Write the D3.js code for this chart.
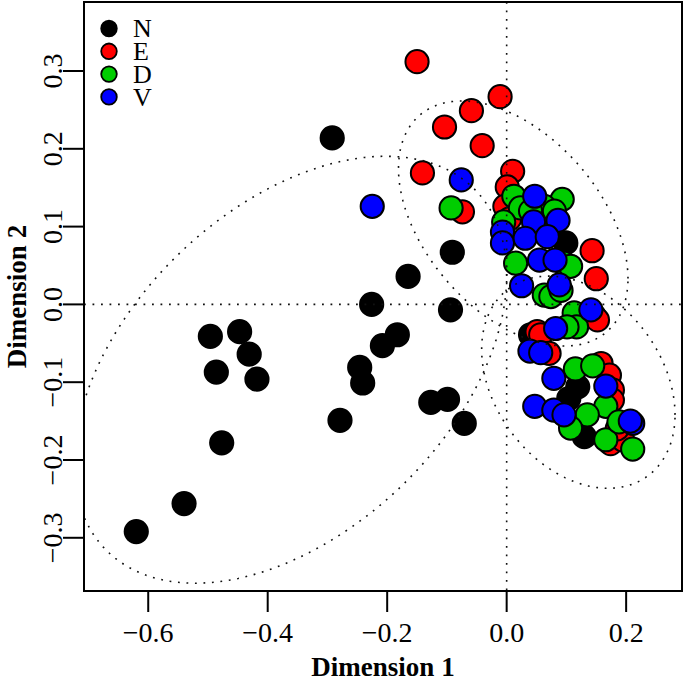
<!DOCTYPE html>
<html><head><meta charset="utf-8">
<script src="https://cdn.jsdelivr.net/npm/d3@7"></script>
<style>body{margin:0;background:#fff}svg{display:block}</style>
</head><body>
<svg id="chart" width="685" height="682"></svg>
<script>
// ---------- data ----------
const groupNames = ["N", "E", "D", "V"];
const groupColors = ["#000000", "#FF0000", "#00CD00", "#0000FF"];

const nX = [-0.292, -0.091, -0.165, -0.226, -0.094, -0.183, -0.208, -0.246, -0.241, -0.279, -0.127, -0.099, -0.071,
            -0.496, -0.447, -0.431, -0.486, -0.418, -0.477, -0.540, -0.620, 0.099, 0.119, 0.104, 0.130, 0.040];
const nY = [0.214, 0.067, 0.036, 0.000, -0.007, -0.039, -0.053, -0.081, -0.101, -0.149, -0.126, -0.122, -0.153,
            -0.041, -0.035, -0.064, -0.087, -0.096, -0.178, -0.256, -0.292, 0.079, -0.106, -0.121, -0.170, -0.039];

const eX = [-0.150, -0.011, -0.059, -0.104, -0.041, -0.141, -0.074, 0.010, 0.001, -0.003, 0.143, 0.150, 0.146, 0.152,
            0.051, 0.057, 0.071, 0.158, 0.172, 0.177, 0.177, 0.174, 0.194, 0.185, 0.005];
const eY = [0.312, 0.267, 0.249, 0.228, 0.204, 0.169, 0.119, 0.171, 0.151, 0.126, 0.069, 0.033, -0.014, -0.020,
            -0.035, -0.039, -0.063, -0.076, -0.091, -0.110, -0.123, -0.179, -0.174, -0.160, 0.110];

const dX = [-0.093, 0.012, 0.093, 0.023, 0.063, -0.005, 0.015, 0.095, 0.107, 0.063, 0.074, 0.091, 0.113, 0.117,
            0.101, 0.115, 0.144, 0.166, 0.135, 0.107, 0.166, 0.188, 0.211, 0.040, 0.080];
const dY = [0.124, 0.139, 0.135, 0.124, 0.126, 0.106, 0.053, 0.053, 0.049, 0.012, 0.010, 0.018, -0.011, -0.029,
            -0.029, -0.083, -0.079, -0.131, -0.142, -0.159, -0.174, -0.151, -0.186, 0.120, 0.120];

const vX = [-0.225, -0.076, 0.047, 0.045, 0.086, -0.007, -0.007, 0.031, 0.068, 0.055, 0.081, 0.025, 0.088, 0.141,
            0.082, 0.039, 0.057, 0.079, 0.166, 0.047, 0.079, 0.096, 0.211, 0.207];
const vY = [0.126, 0.160, 0.139, 0.106, 0.108, 0.093, 0.079, 0.085, 0.087, 0.057, 0.057, 0.024, 0.025, -0.007,
            -0.031, -0.060, -0.062, -0.095, -0.105, -0.131, -0.136, -0.142, -0.153, -0.150];

const xTicks = [-0.6, -0.4, -0.2, 0.0, 0.2];
const yTicks = [-0.3, -0.2, -0.1, 0.0, 0.1, 0.2, 0.3];
const xDomain = [-0.7075, 0.2935];
const yDomain = [-0.3684, 0.3887];

// ellipses: centre and covariance [sxx, sxy, syy] in data units
const ellipseCenters = [[-0.362, -0.084], [0.011, 0.104], [0.120, -0.100]];
const ellipseCov = [[0.1311, 0.0437, 0.0753], [0.0369, -0.0136, 0.0248], [0.0262, -0.0068, 0.0186]];

const xLabel = "Dimension 1";
const yLabel = "Dimension 2";

// ---------- drawing ----------
const W = 685, H = 682;
const m = {l: 84, r: 3, t: 2, b: 91};
const FONT = "'Liberation Serif', 'Times New Roman', serif";
const svg = d3.select("#chart");

const x = d3.scaleLinear().domain(xDomain).range([m.l, W - m.r]);
const y = d3.scaleLinear().domain(yDomain).range([H - m.b, m.t]);
const fmt = d3.format(".1f");

svg.append("defs").append("clipPath").attr("id", "clip")
  .append("rect").attr("x", m.l).attr("y", m.t).attr("width", W - m.l - m.r).attr("height", H - m.t - m.b);

const plot = svg.append("g").attr("clip-path", "url(#clip)");

const series = [[nX, nY], [eX, eY], [dX, dY], [vX, vY]];
series.forEach(([xs, ys], gi) => {
  const pts = xs.map((v, i) => ({x: v, y: ys[i]}));
  plot.append("g").selectAll("circle").data(pts).join("circle")
    .attr("cx", d => x(d.x)).attr("cy", d => y(d.y)).attr("r", 11.6)
    .attr("fill", groupColors[gi]).attr("stroke", "#000").attr("stroke-width", 2);
});

const dotted = sel => sel.attr("fill", "none").attr("stroke", "#111").attr("stroke-width", 1.6)
  .attr("stroke-dasharray", "1.8,6.7");

// reference lines
plot.append("line").attr("x1", x(0)).attr("x2", x(0)).attr("y1", m.t).attr("y2", H - m.b).call(dotted);
plot.append("line").attr("x1", m.l).attr("x2", W - m.r).attr("y1", y(0)).attr("y2", y(0)).call(dotted);

// ellipses
const line = d3.line().x(d => x(d[0])).y(d => y(d[1])).curve(d3.curveLinearClosed);
ellipseCenters.forEach((c, i) => {
  const [sxx, sxy, syy] = ellipseCov[i];
  const a = Math.sqrt(sxx), b = sxy / a, cc = Math.sqrt(syy - b * b);
  const pts = d3.range(0, 2 * Math.PI, Math.PI / 90).map(t => [c[0] + a * Math.cos(t), c[1] + b * Math.cos(t) + cc * Math.sin(t)]);
  plot.append("path").attr("d", line(pts)).call(dotted);
});

// box
svg.append("rect").attr("x", m.l).attr("y", m.t).attr("width", W - m.l - m.r).attr("height", H - m.t - m.b)
  .attr("fill", "none").attr("stroke", "#000").attr("stroke-width", 2);

// x axis
const xa = svg.append("g");
xa.selectAll("line").data(xTicks).join("line")
  .attr("x1", d => x(d)).attr("x2", d => x(d)).attr("y1", H - m.b).attr("y2", H - m.b + 21)
  .attr("stroke", "#000").attr("stroke-width", 2);
xa.selectAll("text").data(xTicks).join("text")
  .attr("x", d => x(d)).attr("y", H - m.b + 50.5).attr("text-anchor", "middle")
  .attr("font-family", FONT).attr("font-size", 28).text(d => fmt(d));

// y axis
const ya = svg.append("g");
ya.selectAll("line").data(yTicks).join("line")
  .attr("x1", m.l).attr("x2", m.l - 21).attr("y1", d => y(d)).attr("y2", d => y(d))
  .attr("stroke", "#000").attr("stroke-width", 2);
ya.selectAll("text").data(yTicks).join("text")
  .attr("transform", d => `translate(${m.l - 22.5},${y(d)}) rotate(-90)`).attr("text-anchor", "middle")
  .attr("font-family", FONT).attr("font-size", 28).text(d => fmt(d));

// axis titles
svg.append("text").attr("x", (m.l + W - m.r) / 2).attr("y", 676).attr("text-anchor", "middle")
  .attr("font-family", FONT).attr("font-size", 27).attr("font-weight", "bold").text(xLabel);
svg.append("text").attr("transform", `translate(26,${(m.t + H - m.b) / 2}) rotate(-90)`).attr("text-anchor", "middle")
  .attr("font-family", FONT).attr("font-size", 27).attr("font-weight", "bold").text(yLabel);

// legend
const leg = svg.append("g");
groupNames.forEach((nm, i) => {
  const ly = 28.5 + i * 22.8;
  leg.append("circle").attr("cx", 109).attr("cy", ly).attr("r", 7.8)
    .attr("fill", groupColors[i]).attr("stroke", "#000").attr("stroke-width", 1.8);
  leg.append("text").attr("x", 133).attr("y", ly + 8.6).attr("font-family", FONT).attr("font-size", 26).text(nm);
});
</script>
</body></html>
